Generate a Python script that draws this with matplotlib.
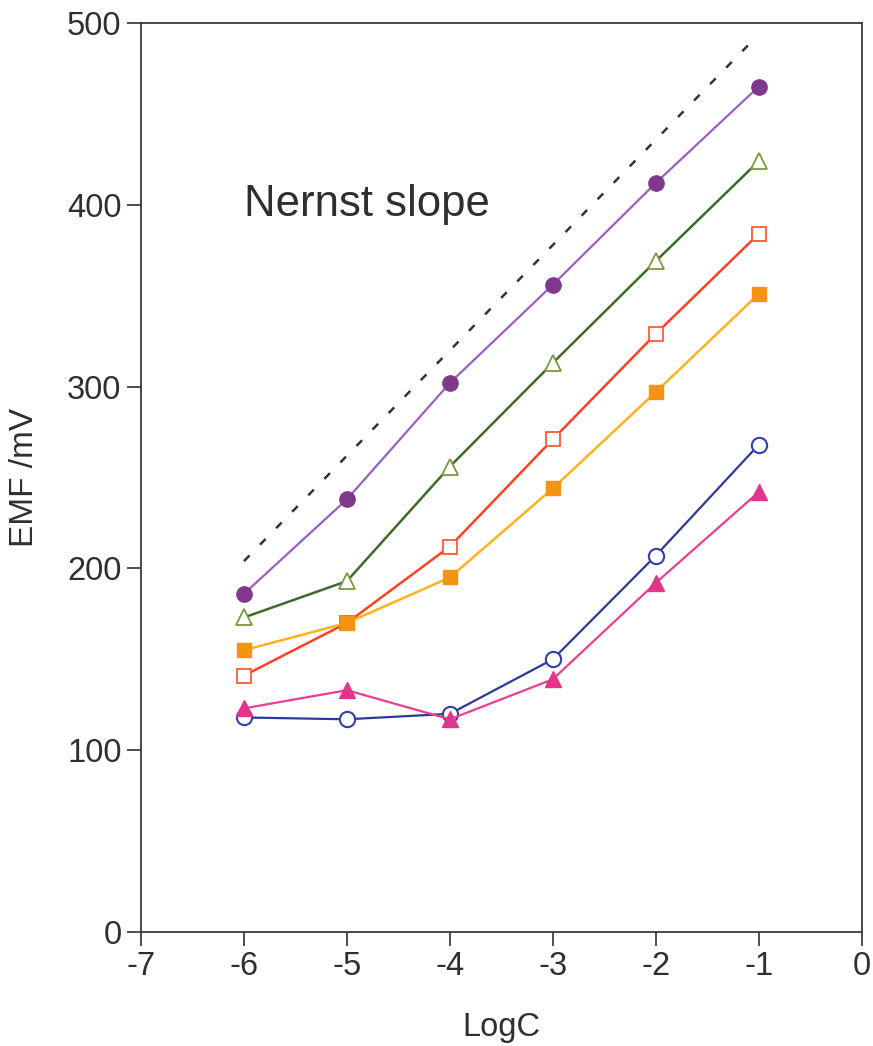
import matplotlib
matplotlib.use('Agg')
import matplotlib.pyplot as plt

# --- DATA ---
log_c = [-6, -5, -4, -3, -2, -1]

emf_purple = [186, 238, 302, 356, 412, 465]
emf_green = [173, 193, 256, 313, 369, 424]
emf_red_open = [141, 170, 212, 271, 329, 384]
emf_orange = [155, 170, 195, 244, 297, 351]
emf_blue = [118, 117, 120, 150, 207, 268]
emf_magenta = [123, 133, 117, 139, 192, 242]

nernst_x = [-6, -1.03]
nernst_y = [204, 492]

x_ticks = [-7, -6, -5, -4, -3, -2, -1, 0]
x_tick_labels = ['-7', '-6', '-5', '-4', '-3', '-2', '-1', '0']
y_ticks = [0, 100, 200, 300, 400, 500]

plt.rcParams['font.family'] = ['Liberation Sans', 'DejaVu Sans']
text_color = '#2e302e'

fig = plt.figure(figsize=(8.73, 10.46), dpi=100)
ax = fig.add_axes([0.1615, 0.109, 0.8255, 0.869])

# dashed Nernst reference line
ax.plot(nernst_x, nernst_y, linestyle=(0, (3.2, 6)), color='#333333', linewidth=1.8)

ax.plot(log_c, emf_purple, color='#9a5fc0', linewidth=1.6, marker='o',
        markersize=11, markerfacecolor='#80388c', markeredgecolor='#80388c')
ax.plot(log_c, emf_green, color='#3d6b2a', linewidth=1.8, marker='^',
        markersize=11.5, markerfacecolor='white', markeredgecolor='#7a9a3a',
        markeredgewidth=1.3)
ax.plot(log_c, emf_red_open, color='#ff4020', linewidth=1.8, marker='s',
        markersize=10.5, markerfacecolor='white', markeredgecolor='#ff5a30',
        markeredgewidth=1.3)
ax.plot(log_c, emf_orange, color='#ffb21a', linewidth=1.8, marker='s',
        markersize=10.5, markerfacecolor='#f39412', markeredgecolor='#f39412')
ax.plot(log_c, emf_blue, color='#2b3a9a', linewidth=1.6, marker='o',
        markersize=11, markerfacecolor='white', markeredgecolor='#2f3fb0',
        markeredgewidth=1.5)
ax.plot(log_c, emf_magenta, color='#ec3d92', linewidth=1.6, marker='^',
        markersize=11.5, markerfacecolor='#e0358a', markeredgecolor='#e0358a')

ax.text(-6.0, 394, 'Nernst slope', fontsize=31.5, color=text_color,
        ha='left', va='baseline')

ax.set_xlim(-7, 0)
ax.set_ylim(0, 500)
ax.set_xticks(x_ticks)
ax.set_xticklabels(x_tick_labels)
ax.set_yticks(y_ticks)
ax.tick_params(direction='out', length=10, width=1.2, labelsize=23.5,
               colors=text_color, pad=4)
for s in ax.spines.values():
    s.set_color('#3a3a3a')
    s.set_linewidth(1.3)

ax.set_xlabel('LogC', fontsize=23.5, color=text_color, labelpad=21)
ax.set_ylabel('EMF /mV', fontsize=24, color=text_color, labelpad=8)
ax.yaxis.set_label_coords(-0.14, 0.5)

fig.savefig('out.png', dpi=100)
